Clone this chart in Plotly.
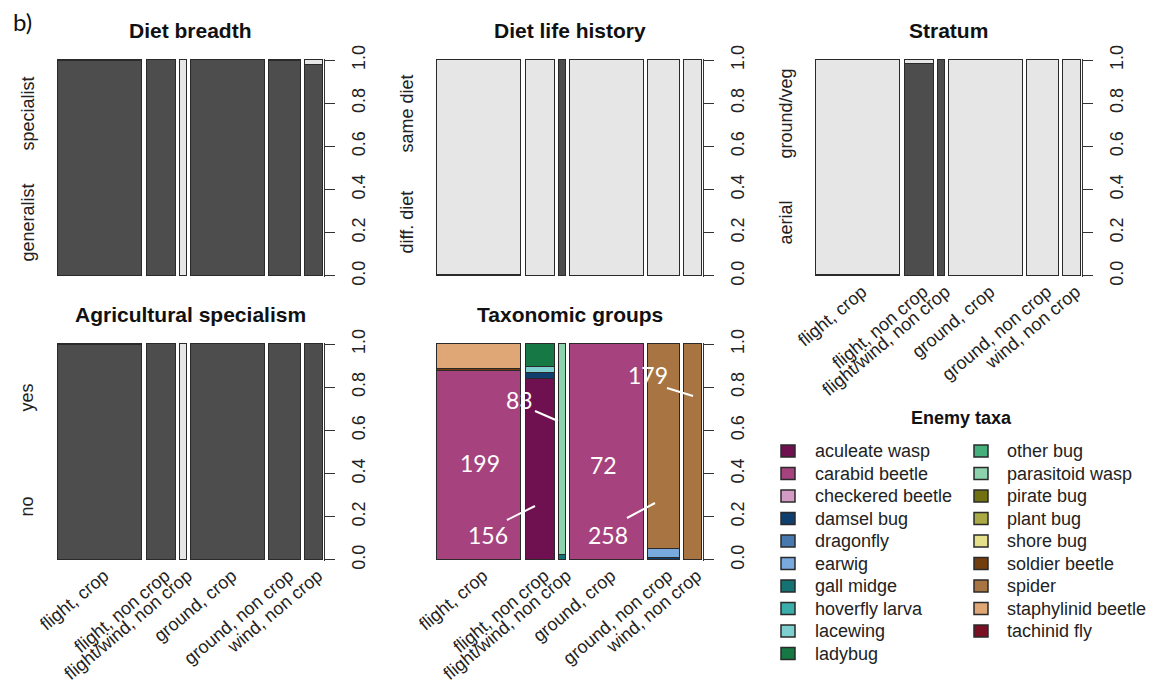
import plotly.graph_objects as go

# ---------------- data ----------------
groups = ["flight, crop", "flight, non crop", "flight/wind, non crop",
          "ground, crop", "ground, non crop", "wind, non crop"]
# relative share of records per dispersal/habitat group (mosaic column widths, %)
group_share = [34.6, 12.1, 2.7, 30.3, 12.9, 7.4]
# counts written on the taxonomic panel
group_counts = [199, 156, 83, 72, 258, 179]

diet_breadth_levels = ["generalist", "specialist"]
diet_breadth_generalist = [0.997, 1.0, 0.0, 1.0, 0.995, 0.975]

diet_life_levels = ["diff. diet", "same diet"]
diet_life_diff = [0.006, 0.0, 1.0, 0.0, 0.0, 0.0]

stratum_levels = ["aerial", "ground/veg"]
stratum_aerial = [0.005, 0.98, 1.0, 0.0, 0.0, 0.0]

agri_levels = ["no", "yes"]
agri_no = [0.997, 1.0, 0.0, 1.0, 1.0, 1.0]

taxa = ["aculeate wasp", "carabid beetle", "checkered beetle", "damsel bug",
        "dragonfly", "earwig", "gall midge", "hoverfly larva", "lacewing",
        "ladybug", "other bug", "parasitoid wasp", "pirate bug", "plant bug",
        "shore bug", "soldier beetle", "spider", "staphylinid beetle", "tachinid fly"]
taxa_colors = ["#6f1150", "#a6437f", "#d49cc4", "#0f3f6e", "#4778ae", "#79aade",
               "#147372", "#3badaa", "#7ecfcf", "#167845", "#46b07c", "#8cd3ad",
               "#717112", "#a9a945", "#e6e08b", "#733e0d", "#a87542", "#dea775",
               "#7a1023"]
# proportion of each taxon within each group (bottom to top = taxa order)
taxa_share = {
    "aculeate wasp":      [0.0,   0.838, 0.0,   0.0, 0.0,   0.0],
    "carabid beetle":     [0.875, 0.0,   0.0,   1.0, 0.0,   0.0],
    "checkered beetle":   [0.0,   0.0,   0.0,   0.0, 0.0,   0.0],
    "damsel bug":         [0.0,   0.026, 0.0,   0.0, 0.008, 0.0],
    "dragonfly":          [0.0,   0.0,   0.0,   0.0, 0.0,   0.0],
    "earwig":             [0.0,   0.0,   0.0,   0.0, 0.042, 0.0],
    "gall midge":         [0.0,   0.0,   0.025, 0.0, 0.0,   0.0],
    "hoverfly larva":     [0.0,   0.0,   0.0,   0.0, 0.0,   0.0],
    "lacewing":           [0.0,   0.028, 0.0,   0.0, 0.0,   0.0],
    "ladybug":            [0.0,   0.108, 0.0,   0.0, 0.0,   0.0],
    "other bug":          [0.0,   0.0,   0.0,   0.0, 0.0,   0.0],
    "parasitoid wasp":    [0.0,   0.0,   0.975, 0.0, 0.0,   0.0],
    "pirate bug":         [0.0,   0.0,   0.0,   0.0, 0.0,   0.0],
    "plant bug":          [0.0,   0.0,   0.0,   0.0, 0.0,   0.0],
    "shore bug":          [0.0,   0.0,   0.0,   0.0, 0.0,   0.0],
    "soldier beetle":     [0.008, 0.0,   0.0,   0.0, 0.0,   0.0],
    "spider":             [0.0,   0.0,   0.0,   0.0, 0.95,  1.0],
    "staphylinid beetle": [0.117, 0.0,   0.0,   0.0, 0.0,   0.0],
    "tachinid fly":       [0.0,   0.0,   0.0,   0.0, 0.0,   0.0],
}

# ---------------- layout helpers ----------------
W, H = 1154, 686          # browser window
OFF = 8                   # default page margin around the plot div
FW, FH = W - OFF, H - OFF # figure size so that it exactly fills the window
FONT = "Liberation Sans, Arial, sans-serif"
TXT = "#222222"
DARK, LIGHT = "#4d4d4d", "#e6e6e6"
EDGE = dict(color="#2a2a2a", width=1.2)

gap = 1.72
lefts, pos = [], 0.0
for s in group_share:
    lefts.append(pos)
    pos += s + gap
total = pos - gap
centers = [l + s / 2 for l, s in zip(lefts, group_share)]
pad = 0.41


def px2x(p):
    return (p - OFF) / FW


def px2y(p):
    return 1 - (p - OFF) / FH


# panel: (title, left px, right px, top px, bottom px, show x labels)
panels = [
    ("Diet breadth", 57, 324, 59, 277, False),
    ("Diet life history", 436, 703, 59, 277, False),
    ("Stratum", 815, 1082, 59, 277, True),
    ("Agricultural specialism", 57, 324, 343, 561, True),
    ("Taxonomic groups", 436, 703, 343, 561, True),
]

fig = go.Figure()
layout = {}
annotations = []
shapes = []

for i, (title, l, r, t, b, showx) in enumerate(panels, start=1):
    xa = "xaxis" if i == 1 else f"xaxis{i}"
    ya = "yaxis" if i == 1 else f"yaxis{i}"
    layout[xa] = dict(domain=[px2x(l), px2x(r)], range=[-pad, total + pad],
                      anchor=f"y{i}" if i > 1 else "y", automargin=False,
                      showgrid=False, zeroline=False, showline=False, ticks="",
                      tickvals=centers, ticktext=groups, tickangle=-40,
                      ticklabelshift=4,
                      showticklabels=showx,
                      tickfont=dict(family=FONT, size=18, color=TXT))
    layout[ya] = dict(domain=[px2y(b), px2y(t)], range=[-0.005, 1.005],
                      anchor=f"x{i}" if i > 1 else "x", side="right", automargin=False,
                      showgrid=False, zeroline=False, showline=True,
                      linecolor="#333333", linewidth=1.2,
                      ticks="outside", ticklen=10, tickwidth=1.2, tickcolor="#333333",
                      tickvals=[0, 0.2, 0.4, 0.6, 0.8, 1.0],
                      ticktext=["0.0", "0.2", "0.4", "0.6", "0.8", "1.0"],
                      tickangle=-90, ticklabelstandoff=8,
                      tickfont=dict(family=FONT, size=18, color=TXT))
    annotations.append(dict(text=f"<b>{title}</b>", x=px2x((l + r) / 2), y=px2y(t - 29),
                            xref="paper", yref="paper", showarrow=False,
                            xanchor="center", yanchor="middle",
                            font=dict(family=FONT, size=21, color="#111111")))

binary = [
    (1, diet_breadth_levels, diet_breadth_generalist, 27),
    (2, diet_life_levels, diet_life_diff, 406),
    (3, stratum_levels, stratum_aerial, 785),
    (4, agri_levels, agri_no, 26),
]
for idx, levels, low, labx in binary:
    xs = "x" if idx == 1 else f"x{idx}"
    ys = "y" if idx == 1 else f"y{idx}"
    high = [round(1 - v, 4) for v in low]
    for vals, col in ((low, DARK), (high, LIGHT)):
        fig.add_trace(go.Bar(x=centers, y=vals, width=group_share, xaxis=xs, yaxis=ys,
                             marker=dict(color=col, line=EDGE), showlegend=False,
                             hoverinfo="skip"))
    t = panels[idx - 1][3]
    b = panels[idx - 1][4]
    for lev, frac in zip(levels, (0.25, 0.75)):
        annotations.append(dict(text=lev, x=px2x(labx), y=px2y(b - frac * (b - t)),
                                xref="paper", yref="paper", showarrow=False,
                                textangle=-90, xanchor="center", yanchor="middle",
                                font=dict(family=FONT, size=18, color=TXT)))

for name, col in zip(taxa, taxa_colors):
    fig.add_trace(go.Bar(x=centers, y=taxa_share[name], width=group_share,
                         xaxis="x5", yaxis="y5", name=name,
                         marker=dict(color=col, line=EDGE), showlegend=False,
                         hoverinfo="skip"))

# count labels with leader lines (image pixel positions)
count_pos = [(480, 463), (488, 535), (519, 400), (603, 465), (608, 535), (648, 375)]
for n, (cx, cy) in zip(group_counts, count_pos):
    annotations.append(dict(text=str(n), x=px2x(cx), y=px2y(cy), xref="paper", yref="paper",
                            showarrow=False, xanchor="center", yanchor="middle",
                            font=dict(family="Lato, Open Sans, sans-serif", size=23,
                                      color="white")))
leaders = [((507, 520), (535, 506)), ((535, 411), (558, 421)),
           ((627, 518), (655, 503)), ((667, 388), (693, 396))]
for (x0, y0), (x1, y1) in leaders:
    shapes.append(dict(type="line", xref="paper", yref="paper",
                       x0=px2x(x0), y0=px2y(y0), x1=px2x(x1), y1=px2y(y1),
                       line=dict(color="white", width=2)))

# legend (drawn as keys + text, two columns)
annotations.append(dict(text="<b>Enemy taxa</b>", x=px2x(961), y=px2y(418),
                        xref="paper", yref="paper", showarrow=False,
                        xanchor="center", yanchor="middle",
                        font=dict(family=FONT, size=18, color="#111111")))
for k, (name, col) in enumerate(zip(taxa, taxa_colors)):
    column, row = (0, k) if k < 10 else (1, k - 10)
    kx = 788 if column == 0 else 981
    tx = 813 if column == 0 else 1005
    ky = 451 + row * 22.5
    shapes.append(dict(type="rect", xref="paper", yref="paper",
                       x0=px2x(kx - 7), x1=px2x(kx + 7), y0=px2y(ky + 6), y1=px2y(ky - 6),
                       fillcolor=col, line=dict(color="#2a2a2a", width=1.5)))
    annotations.append(dict(text=name, x=px2x(tx), y=px2y(ky), xref="paper", yref="paper",
                            showarrow=False, xanchor="left", yanchor="middle",
                            font=dict(family=FONT, size=18, color=TXT)))

annotations.append(dict(text="b)", x=px2x(11), y=px2y(22), xref="paper", yref="paper",
                        showarrow=False, xanchor="left", yanchor="middle",
                        font=dict(family="Lato, Open Sans, sans-serif", size=24,
                                  color="#111111")))

fig.update_layout(width=FW, height=FH, margin=dict(l=0, r=0, t=0, b=0, autoexpand=False),
                  paper_bgcolor="white", plot_bgcolor="white",
                  barmode="stack", bargap=0, showlegend=False,
                  annotations=annotations, shapes=shapes, **layout)

fig.write_html("out.html")
